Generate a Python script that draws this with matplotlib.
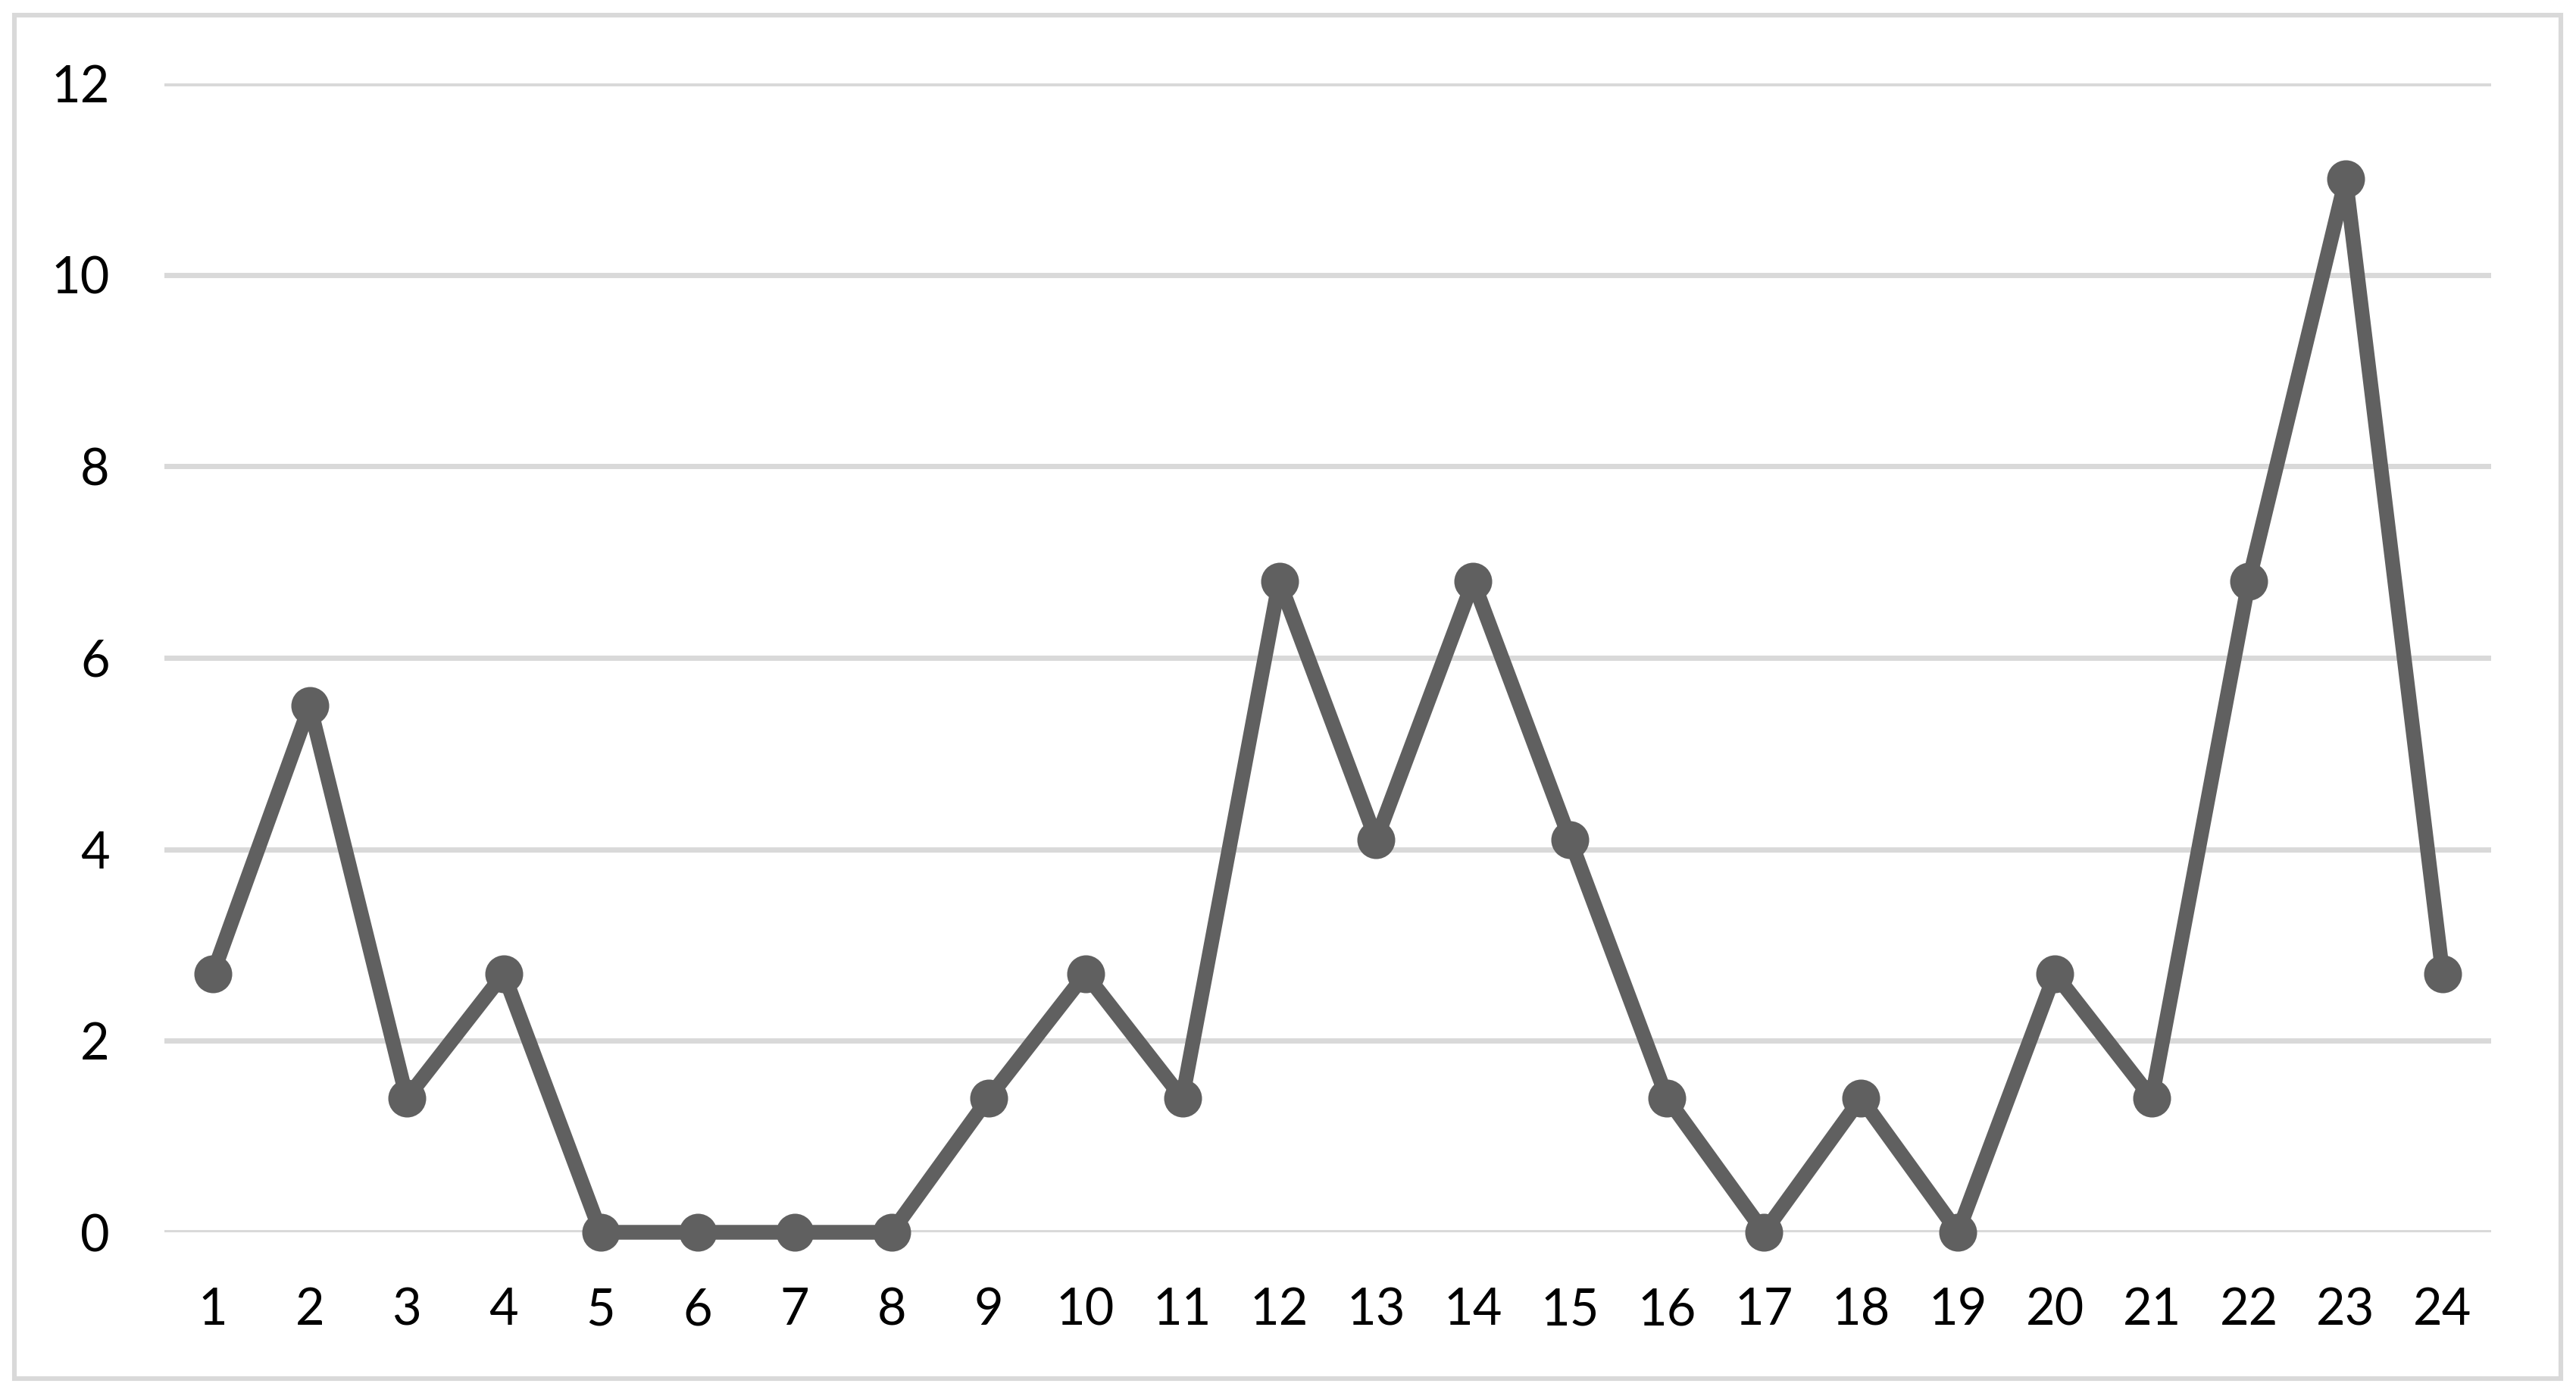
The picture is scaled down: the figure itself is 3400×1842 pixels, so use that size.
import matplotlib
matplotlib.use("Agg")
import matplotlib.pyplot as plt
from matplotlib.patches import Rectangle

categories = list(range(1, 25))
values = [2.7, 5.5, 1.4, 2.7, 0, 0, 0, 0, 1.4, 2.7, 1.4, 6.8,
          4.1, 6.8, 4.1, 1.4, 0, 1.4, 0, 2.7, 1.4, 6.8, 11, 2.7]
yticks = [0, 2, 4, 6, 8, 10, 12]

plt.rcParams['font.family'] = ['Lato', 'DejaVu Sans']

fig = plt.figure(figsize=(17, 9.21), dpi=200)
ax = fig.add_axes([217 / 3400, 1 - 1626 / 1842, (3288 - 217) / 3400, (1626 - 110) / 1842])

ax.plot(categories, values, color='#606060', lw=7, marker='o', ms=17,
        solid_joinstyle='round', solid_capstyle='round', clip_on=False, zorder=3)

ax.set_xlim(0.5, 24.5)
ax.set_ylim(0, 12)
ax.set_xticks(categories)
ax.set_xticklabels([str(c) for c in categories])
ax.set_yticks(yticks)
ax.yaxis.grid(True, color='#D9D9D9', lw=2.5)
ax.set_axisbelow(True)
for s in ax.spines.values():
    s.set_visible(False)
ax.tick_params(axis='both', length=0, labelsize=24, colors='black')
ax.tick_params(axis='x', pad=26)
ax.tick_params(axis='y', pad=26)

# outer chart border
fig.patches.append(Rectangle((18.5 / 3400, 1 - 1819 / 1842), (3379.5 - 18.5) / 3400,
                             (1819 - 20.5) / 1842, transform=fig.transFigure,
                             fill=False, edgecolor='#D9D9D9', lw=2.2))

fig.savefig('out.png', dpi=200, facecolor='white')
